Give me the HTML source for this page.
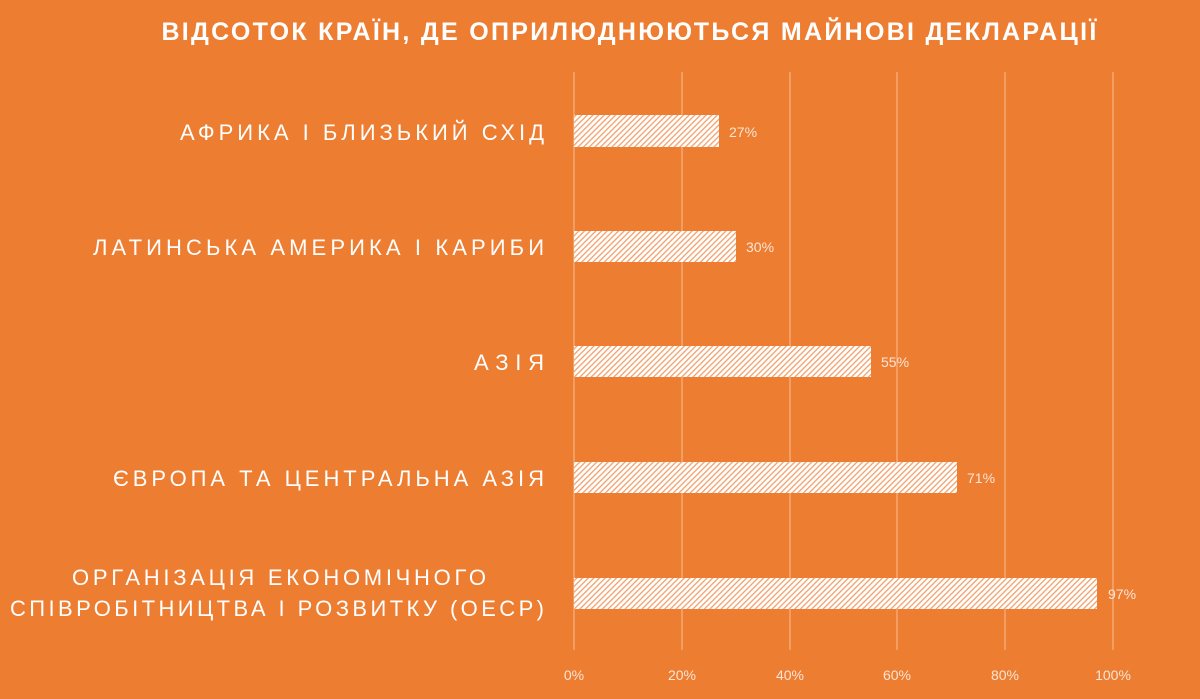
<!DOCTYPE html>
<html><head><meta charset="utf-8"><style>
body{margin:0;width:1200px;height:694px;background:#ED7D31;overflow:hidden;font-family:"Liberation Sans","DejaVu Sans",sans-serif;}
</style></head><body>
<svg width="1200" height="694" xmlns="http://www.w3.org/2000/svg">
<defs>
<pattern id="h" width="4" height="4" patternUnits="userSpaceOnUse" patternTransform="rotate(45)">
<rect width="4" height="4" fill="#fff"/>
<rect width="1.3" height="4" fill="#F1A06A"/>
</pattern>
</defs>
<rect width="1200" height="694" fill="#ED7D31"/>
<text x="630" y="40" fill="#fff" font-size="25" font-weight="bold" text-anchor="middle" letter-spacing="2.3">ВІДСОТОК  КРАЇН, ДЕ ОПРИЛЮДНЮЮТЬСЯ  МАЙНОВІ  ДЕКЛАРАЦІЇ</text>
<g stroke="#F3A872" stroke-width="1.5">
<line x1="574" y1="72" x2="574" y2="650"/>
<line x1="682" y1="72" x2="682" y2="650"/>
<line x1="790" y1="72" x2="790" y2="650"/>
<line x1="897" y1="72" x2="897" y2="650"/>
<line x1="1005" y1="72" x2="1005" y2="650"/>
<line x1="1113" y1="72" x2="1113" y2="650"/>
</g>
<g fill="url(#h)">
<rect x="574" y="115" width="145" height="32"/>
<rect x="574" y="231" width="162" height="31"/>
<rect x="574" y="346" width="297" height="31"/>
<rect x="574" y="462" width="383" height="31"/>
<rect x="574" y="578" width="523" height="31"/>
</g>
<g fill="#FBE5D6" font-size="14">
<text x="729" y="137">27%</text>
<text x="746" y="252">30%</text>
<text x="881" y="367">55%</text>
<text x="967" y="483">71%</text>
<text x="1108" y="599">97%</text>
</g>
<g fill="#FBE5D6" font-size="14" text-anchor="middle">
<text x="574" y="680">0%</text>
<text x="682" y="680">20%</text>
<text x="790" y="680">40%</text>
<text x="897" y="680">60%</text>
<text x="1005" y="680">80%</text>
<text x="1113" y="680">100%</text>
</g>
<g fill="#fff" font-size="22" lengthAdjust="spacing">
<text x="180" y="140" textLength="364" lengthAdjust="spacing">АФРИКА І БЛИЗЬКИЙ СХІД</text>
<text x="93" y="255" textLength="451" lengthAdjust="spacing">ЛАТИНСЬКА АМЕРИКА І КАРИБИ</text>
<text x="474" y="370" textLength="70" lengthAdjust="spacing">АЗІЯ</text>
<text x="113" y="486" textLength="431" lengthAdjust="spacing">ЄВРОПА ТА ЦЕНТРАЛЬНА АЗІЯ</text>
<text x="72" y="585" textLength="414" lengthAdjust="spacing">ОРГАНІЗАЦІЯ ЕКОНОМІЧНОГО</text>
<text x="10" y="616" textLength="534" lengthAdjust="spacing">СПІВРОБІТНИЦТВА І РОЗВИТКУ (ОЕСР)</text>
</g>
</svg>
</body></html>
